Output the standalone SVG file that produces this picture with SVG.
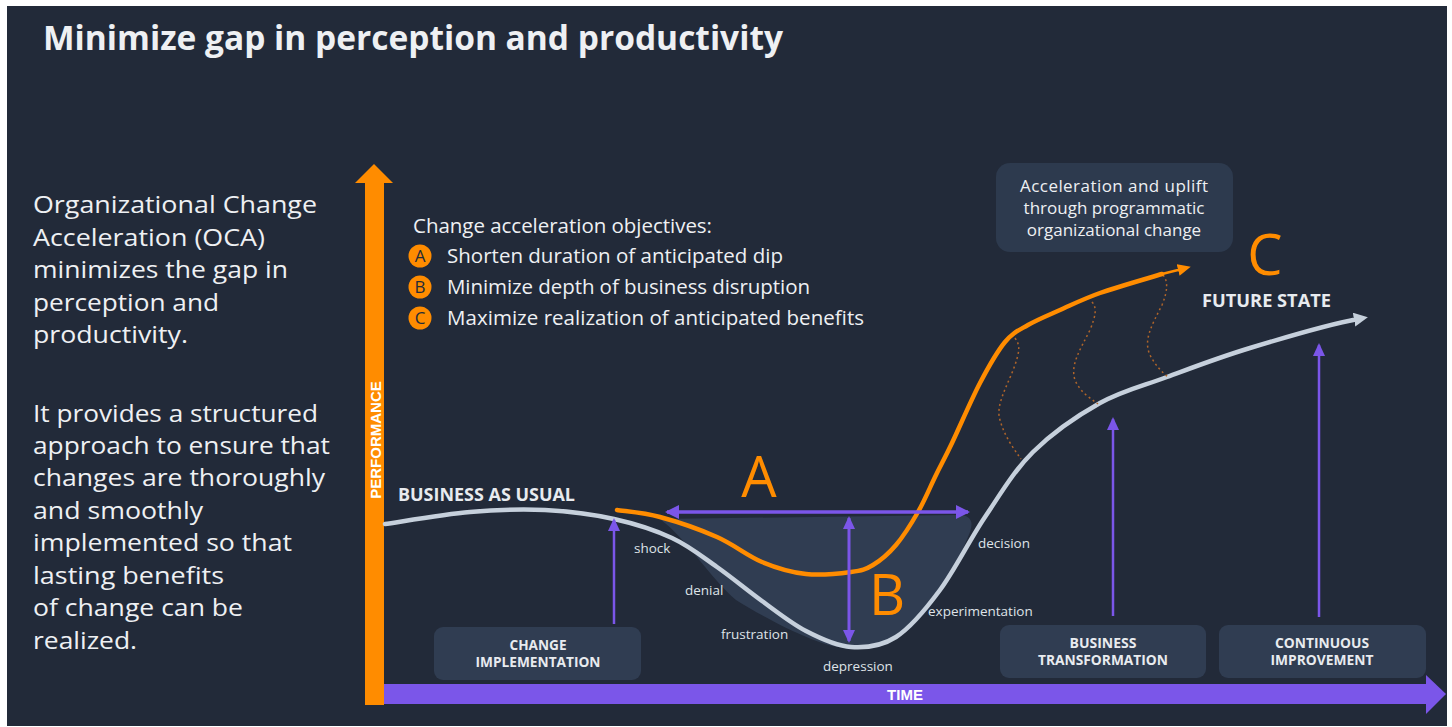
<svg xmlns="http://www.w3.org/2000/svg" width="1452" height="727" viewBox="0 0 1452 727">
<defs>
<style>
.bg{fill:#222a39}
.box{fill:#303d52}
.body{font-family:"Open Sans","DejaVu Sans",sans-serif;fill:#eef0f3}
.lbl{font-family:"Open Sans","DejaVu Sans",sans-serif;font-size:13.5px;fill:#dfe3e8}
.cap{font-family:"Open Sans","DejaVu Sans",sans-serif;font-weight:700;fill:#e8ebef}
.big{font-family:"Open Sans","DejaVu Sans",sans-serif;font-size:56px;fill:#ff8c00;text-anchor:middle}
.ax{font-family:"Liberation Sans",Arial,sans-serif;font-weight:700;font-size:15px;fill:#ffffff;text-anchor:middle}
.pl{stroke:#7b56e9;fill:none}
.gray{stroke:#c6d0dc;stroke-width:4.5;fill:none;stroke-linecap:round}
.org{stroke:#ff8c00;stroke-width:4.5;fill:none;stroke-linecap:round}
.dot{stroke:#b0652a;stroke-width:1.5;fill:none;stroke-dasharray:2 3}
.letter{font-family:"Open Sans","DejaVu Sans",sans-serif;font-size:17px;fill:#232b3a;text-anchor:middle}
</style>
<marker id="pa" markerUnits="userSpaceOnUse" markerWidth="16" markerHeight="16" refX="12" refY="7" orient="auto-start-reverse">
<path d="M0,0 L14,7 L0,14 z" fill="#7b56e9"/>
</marker>
<marker id="pb" markerUnits="userSpaceOnUse" markerWidth="14" markerHeight="14" refX="11" refY="6" orient="auto-start-reverse">
<path d="M0,0 L13,6 L0,12 z" fill="#7b56e9"/>
</marker>
<marker id="ga" markerUnits="userSpaceOnUse" markerWidth="16" markerHeight="16" refX="4" refY="7" orient="auto">
<path d="M0,0 L14,7 L0,14 z" fill="#c6d0dc"/>
</marker>
<marker id="oa" markerUnits="userSpaceOnUse" markerWidth="16" markerHeight="14" refX="4" refY="6" orient="auto">
<path d="M0,0 L13,6 L0,12 z" fill="#ff8c00"/>
</marker>
</defs>
<rect width="1452" height="727" fill="#ffffff"/>
<rect class="bg" x="7" y="6" width="1440" height="720"/>

<text class="body" x="43" y="50" font-size="34" font-weight="700" textLength="740" lengthAdjust="spacingAndGlyphs">Minimize gap in perception and productivity</text>

<g id="intro" class="body" font-size="24">
<text x="33" y="213" textLength="284" lengthAdjust="spacingAndGlyphs">Organizational Change</text>
<text x="33" y="246" textLength="232" lengthAdjust="spacingAndGlyphs">Acceleration (OCA)</text>
<text x="33" y="278" textLength="255" lengthAdjust="spacingAndGlyphs">minimizes the gap in</text>
<text x="33" y="311" textLength="186" lengthAdjust="spacingAndGlyphs">perception and</text>
<text x="33" y="343" textLength="155" lengthAdjust="spacingAndGlyphs">productivity.</text>
<text x="33" y="422" textLength="285" lengthAdjust="spacingAndGlyphs">It provides a structured</text>
<text x="33" y="454" textLength="297" lengthAdjust="spacingAndGlyphs">approach to ensure that</text>
<text x="33" y="486" textLength="292" lengthAdjust="spacingAndGlyphs">changes are thoroughly</text>
<text x="33" y="519" textLength="170" lengthAdjust="spacingAndGlyphs">and smoothly</text>
<text x="33" y="551" textLength="259" lengthAdjust="spacingAndGlyphs">implemented so that</text>
<text x="33" y="584" textLength="191" lengthAdjust="spacingAndGlyphs">lasting benefits</text>
<text x="33" y="616" textLength="210" lengthAdjust="spacingAndGlyphs">of change can be</text>
<text x="33" y="649" textLength="104" lengthAdjust="spacingAndGlyphs">realized.</text>
</g>

<g id="objectives">
<text class="body" x="413" y="233" font-size="20.5" textLength="299">Change acceleration objectives:</text>
<circle cx="420" cy="256" r="11.5" fill="#ff8c00"/>
<text class="letter" x="420" y="262">A</text>
<text class="body" x="447" y="263" font-size="20.5" textLength="336">Shorten duration of anticipated dip</text>
<circle cx="420" cy="287" r="11.5" fill="#ff8c00"/>
<text class="letter" x="420" y="293">B</text>
<text class="body" x="447" y="294" font-size="20.5" textLength="363">Minimize depth of business disruption</text>
<circle cx="420" cy="318" r="11.5" fill="#ff8c00"/>
<text class="letter" x="420" y="324">C</text>
<text class="body" x="447" y="325" font-size="20.5" textLength="417">Maximize realization of anticipated benefits</text>
</g>

<g id="dip-area">
<path d="M660,519 L958,515 Q976,515 970,532 C955,570 925,625 896,638 C870,650 845,650 825,644 C795,634 760,615 736,600 C710,578 688,540 660,519 Z" fill="#303d52"/>
</g>

<g id="axes">
<rect x="365" y="182" width="19" height="523" fill="#ff8c00"/>
<path d="M355,183 L374,164 L393,183 Z" fill="#ff8c00"/>
<rect x="384" y="684" width="1043" height="20" fill="#7b56e9"/>
<path d="M1426,675 L1446,694 L1426,714 Z" fill="#7b56e9"/>
<text class="ax" x="905" y="700">TIME</text>
<text class="ax" transform="translate(380.5,440) rotate(-90)" font-size="16" x="0" y="0">PERFORMANCE</text>
</g>

<g id="connectors">
<path class="gray" marker-end="url(#ga)" d="M385,524 C399.2,522 443.3,514.3 470,512 C496.7,509.7 521,508.8 545,510 C569,511.2 592.8,514.3 614,519 C635.2,523.7 654.8,530 672,538 C689.2,546 702,556.5 717,567 C732,577.5 747.2,590.3 762,601 C776.8,611.7 791.2,623.3 806,631 C820.8,638.7 836,646 851,647 C866,648 881.2,646.5 896,637 C910.8,627.5 925.2,610 940,590 C954.8,570 969.5,540 985,517 C1000.5,494 1013.8,471 1033,452 C1052.2,433 1077.7,415.5 1100,403 C1122.3,390.5 1142,386.2 1167,377 C1192,367.8 1216.5,358.2 1250,348 C1283.5,337.8 1330,324 1358,319"/>
<path class="dot" d="M1015,338 C1020,345 1020,350 1015,365 C1008,385 995,405 1000,420 C1004,435 1013,448 1021,459"/>
<path class="dot" d="M1092,302 C1097,308 1096,315 1090,330 C1080,350 1070,365 1075,380 C1080,392 1090,398 1098,404"/>
<path class="dot" d="M1163,275 C1168,281 1168,290 1162,305 C1152,325 1143,340 1150,355 C1155,365 1162,372 1168,377"/>
<path class="org" d="M617,510 C624.2,511.2 643.3,512.5 660,517 C676.7,521.5 700,529.5 717,537 C734,544.5 747.2,555.8 762,562 C776.8,568.2 791.2,572.3 806,574 C820.8,575.7 839.8,573.5 851,572 C862.2,570.5 865.5,569.5 873,565 C880.5,560.5 888.5,553.8 896,545 C903.5,536.2 911.3,523.7 918,512 C924.7,500.3 930.3,486.5 936,475 C941.7,463.5 944.7,458.3 952,443 C959.3,427.7 971.2,399.8 980,383 C988.8,366.2 997,351.7 1005,342 C1013,332.3 1018.8,330.3 1028,325 C1037.2,319.7 1048,315.3 1060,310 C1072,304.7 1083,299 1100,293 C1117,287 1151.7,277.2 1162,274"/>
<path d="M1160,274.5 L1182,269" stroke="#ff8c00" stroke-width="2.5" fill="none" marker-end="url(#oa)"/>
<path class="pl" stroke-width="3.5" d="M667,512 L968,512" marker-start="url(#pa)" marker-end="url(#pa)"/>
<path class="pl" stroke-width="3" d="M849,518 L849,641" marker-start="url(#pb)" marker-end="url(#pb)"/>
<path class="pl" stroke-width="2.5" d="M614,624 L614,520" marker-end="url(#pb)"/>
<path class="pl" stroke-width="2.5" d="M1113,616 L1113,419" marker-end="url(#pb)"/>
<path class="pl" stroke-width="2.5" d="M1319,617 L1319,345" marker-end="url(#pb)"/>
</g>

<g id="labels">
<text class="cap" x="398" y="501" font-size="17" textLength="177" lengthAdjust="spacingAndGlyphs">BUSINESS AS USUAL</text>
<text class="lbl" x="634" y="553">shock</text>
<text class="lbl" x="685" y="595">denial</text>
<text class="lbl" x="721" y="639">frustration</text>
<text class="lbl" x="823" y="671">depression</text>
<text class="lbl" x="928" y="616">experimentation</text>
<text class="lbl" x="978" y="548">decision</text>
<text class="big" x="759" y="497">A</text>
<text class="big" x="887" y="615">B</text>
<text class="big" x="1265" y="275">C</text>
<text class="cap" x="1202" y="307" font-size="17" textLength="129" lengthAdjust="spacingAndGlyphs">FUTURE STATE</text>
</g>

<g id="uplift-box">
<rect x="996" y="163" width="237" height="89" rx="14" fill="#2d3a4e"/>
<text class="body" x="1114" y="192" font-size="17" text-anchor="middle" textLength="188">Acceleration and uplift</text>
<text class="body" x="1114" y="214" font-size="17" text-anchor="middle">through programmatic</text>
<text class="body" x="1114" y="236" font-size="17" text-anchor="middle">organizational change</text>
</g>

<g id="change-implementation">
<rect class="box" x="434" y="627" width="207" height="53" rx="9"/>
<text class="cap" x="538" y="650" font-size="14" text-anchor="middle" textLength="57" lengthAdjust="spacingAndGlyphs">CHANGE</text>
<text class="cap" x="538" y="667" font-size="14" text-anchor="middle" textLength="125" lengthAdjust="spacingAndGlyphs">IMPLEMENTATION</text>
</g>

<g id="business-transformation">
<rect class="box" x="1000" y="625" width="206" height="53" rx="9"/>
<text class="cap" x="1103" y="648" font-size="14" text-anchor="middle" textLength="67" lengthAdjust="spacingAndGlyphs">BUSINESS</text>
<text class="cap" x="1103" y="665" font-size="14" text-anchor="middle" textLength="130" lengthAdjust="spacingAndGlyphs">TRANSFORMATION</text>
</g>

<g id="continuous-improvement">
<rect class="box" x="1219" y="625" width="207" height="53" rx="9"/>
<text class="cap" x="1322" y="648" font-size="14" text-anchor="middle" textLength="94" lengthAdjust="spacingAndGlyphs">CONTINUOUS</text>
<text class="cap" x="1322" y="665" font-size="14" text-anchor="middle" textLength="103" lengthAdjust="spacingAndGlyphs">IMPROVEMENT</text>
</g>
</svg>
